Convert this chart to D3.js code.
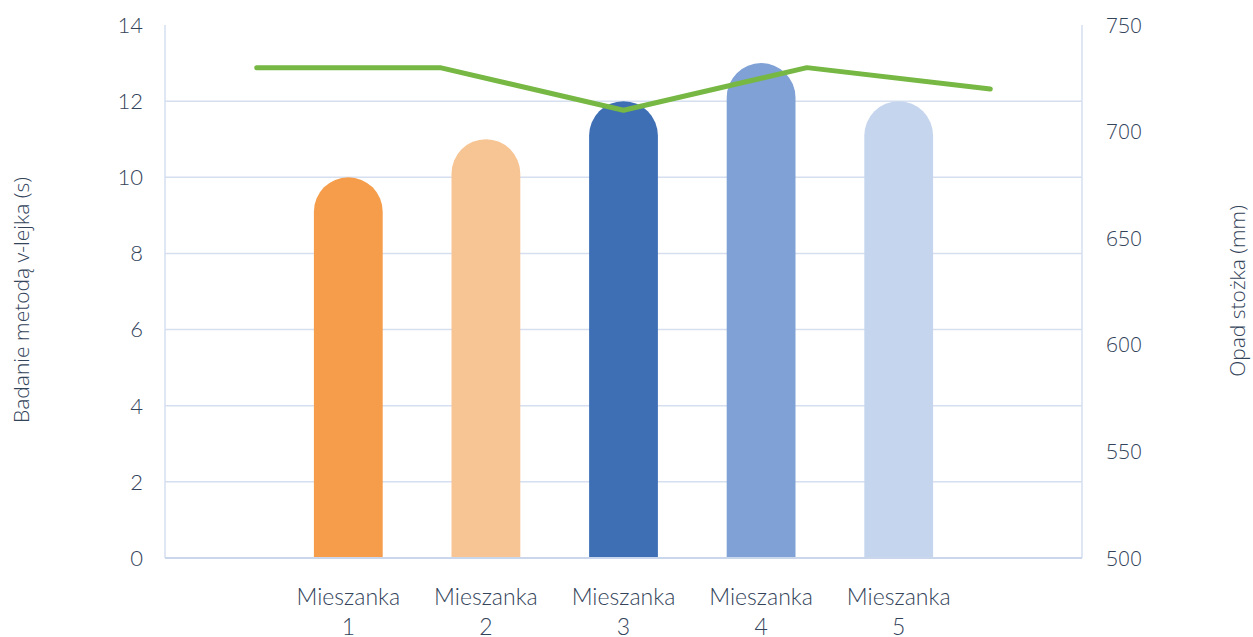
<!DOCTYPE html>
<html><head><meta charset="utf-8">
<script src="https://cdn.jsdelivr.net/npm/d3@7"></script>
<style>
html,body{margin:0;padding:0;background:#fff;}
svg{display:block;}
</style></head>
<body>
<svg id="c" width="1253" height="637"></svg>
<script>
const categories = ["Mieszanka 1","Mieszanka 2","Mieszanka 3","Mieszanka 4","Mieszanka 5"];
const vfunnel = [10, 11, 12, 13, 12];          // Badanie metodą v-lejka (s)
const slump = [730, 730, 710, 730, 720];        // Opad stożka (mm)
const barColors = ["#F59D4A","#F7C493","#3E6FB5","#7FA1D5","#C5D5EE"];
const leftTicks = [0,2,4,6,8,10,12,14];
const rightTicks = [500,550,600,650,700,750];

const svg = d3.select("#c");
const L = 165, R = 1082, T = 25, B = 558;
const textColor = "#33435A";

const yL = d3.scaleLinear().domain([0,14]).range([B,T]);
const yR = d3.scaleLinear().domain([500,750]).range([B,T]);
const xLine = d3.scaleBand().domain(categories).range([L,R]);
const xBar = d3.scaleBand().domain(categories).range([279.5,967.5]).paddingInner(0.5).paddingOuter(0.25);

// gridlines
svg.append("g").selectAll("line").data(leftTicks.filter(d=>d>0 && d<14)).join("line")
  .attr("x1",L).attr("x2",R).attr("y1",d=>yL(d)).attr("y2",d=>yL(d))
  .attr("stroke","#D5DFF0").attr("stroke-width",1.5);
// frame verticals
svg.append("line").attr("x1",L).attr("x2",L).attr("y1",T).attr("y2",B).attr("stroke","#D5DFF0").attr("stroke-width",1.5);
svg.append("line").attr("x1",R).attr("x2",R).attr("y1",T).attr("y2",B).attr("stroke","#D5DFF0").attr("stroke-width",1.5);

// bars with rounded tops
const bw = xBar.bandwidth();
svg.append("g").selectAll("path").data(vfunnel).join("path")
  .attr("fill",(d,i)=>barColors[i])
  .attr("d",(d,i)=>{
    const x0 = xBar(categories[i]), r = bw/2;
    const top = yL(d);
    return `M${x0},${B} L${x0},${top+r} A${r},${r} 0 0 1 ${x0+bw},${top+r} L${x0+bw},${B} Z`;
  });

svg.append("line").attr("x1",L).attr("x2",R).attr("y1",B).attr("y2",B).attr("stroke","#C9D6EC").attr("stroke-width",2);

// line series
svg.append("path").datum(slump)
  .attr("fill","none").attr("stroke","#76B843").attr("stroke-width",5)
  .attr("stroke-linecap","round").attr("stroke-linejoin","round")
  .attr("d", d3.line().x((d,i)=>xLine(categories[i])+xLine.bandwidth()/2).y(d=>yR(d)));

// left axis labels
svg.append("g").selectAll("text").data(leftTicks).join("text")
  .attr("x",143).attr("y",d=>yL(d)).attr("dy","0.36em")
  .attr("text-anchor","end").attr("fill",textColor)
  .attr("font-family","Lato").attr("font-weight",300).attr("font-size",22)
  .text(d=>d);

// right axis labels
svg.append("g").selectAll("text").data(rightTicks).join("text")
  .attr("x",1106).attr("y",d=>yR(d)).attr("dy","0.36em")
  .attr("text-anchor","start").attr("fill",textColor)
  .attr("font-family","Open Sans").attr("font-weight",300).attr("font-size",21)
  .text(d=>d);

// category labels
const cat = svg.append("g").selectAll("text").data(categories).join("text")
  .attr("text-anchor","middle").attr("fill",textColor)
  .attr("font-family","Lato").attr("font-weight",300).attr("font-size",23)
  .attr("transform",d=>`translate(${xBar(d)+bw/2},605)`);
cat.append("tspan").attr("x",0).attr("y",0).text(d=>d.split(" ")[0]);
cat.append("tspan").attr("x",0).attr("y",30).text(d=>d.split(" ")[1]);

// axis titles
svg.append("text").attr("transform","translate(29,300) rotate(-90)")
  .attr("text-anchor","middle").attr("fill",textColor)
  .attr("font-family","Open Sans").attr("font-weight",300).attr("font-size",21)
  .text("Badanie metodą v-lejka (s)");
svg.append("text").attr("transform","translate(1245,291) rotate(-90)")
  .attr("text-anchor","middle").attr("fill",textColor)
  .attr("font-family","Open Sans").attr("font-weight",300).attr("font-size",21)
  .text("Opad stożka (mm)");
</script>
</body></html>
